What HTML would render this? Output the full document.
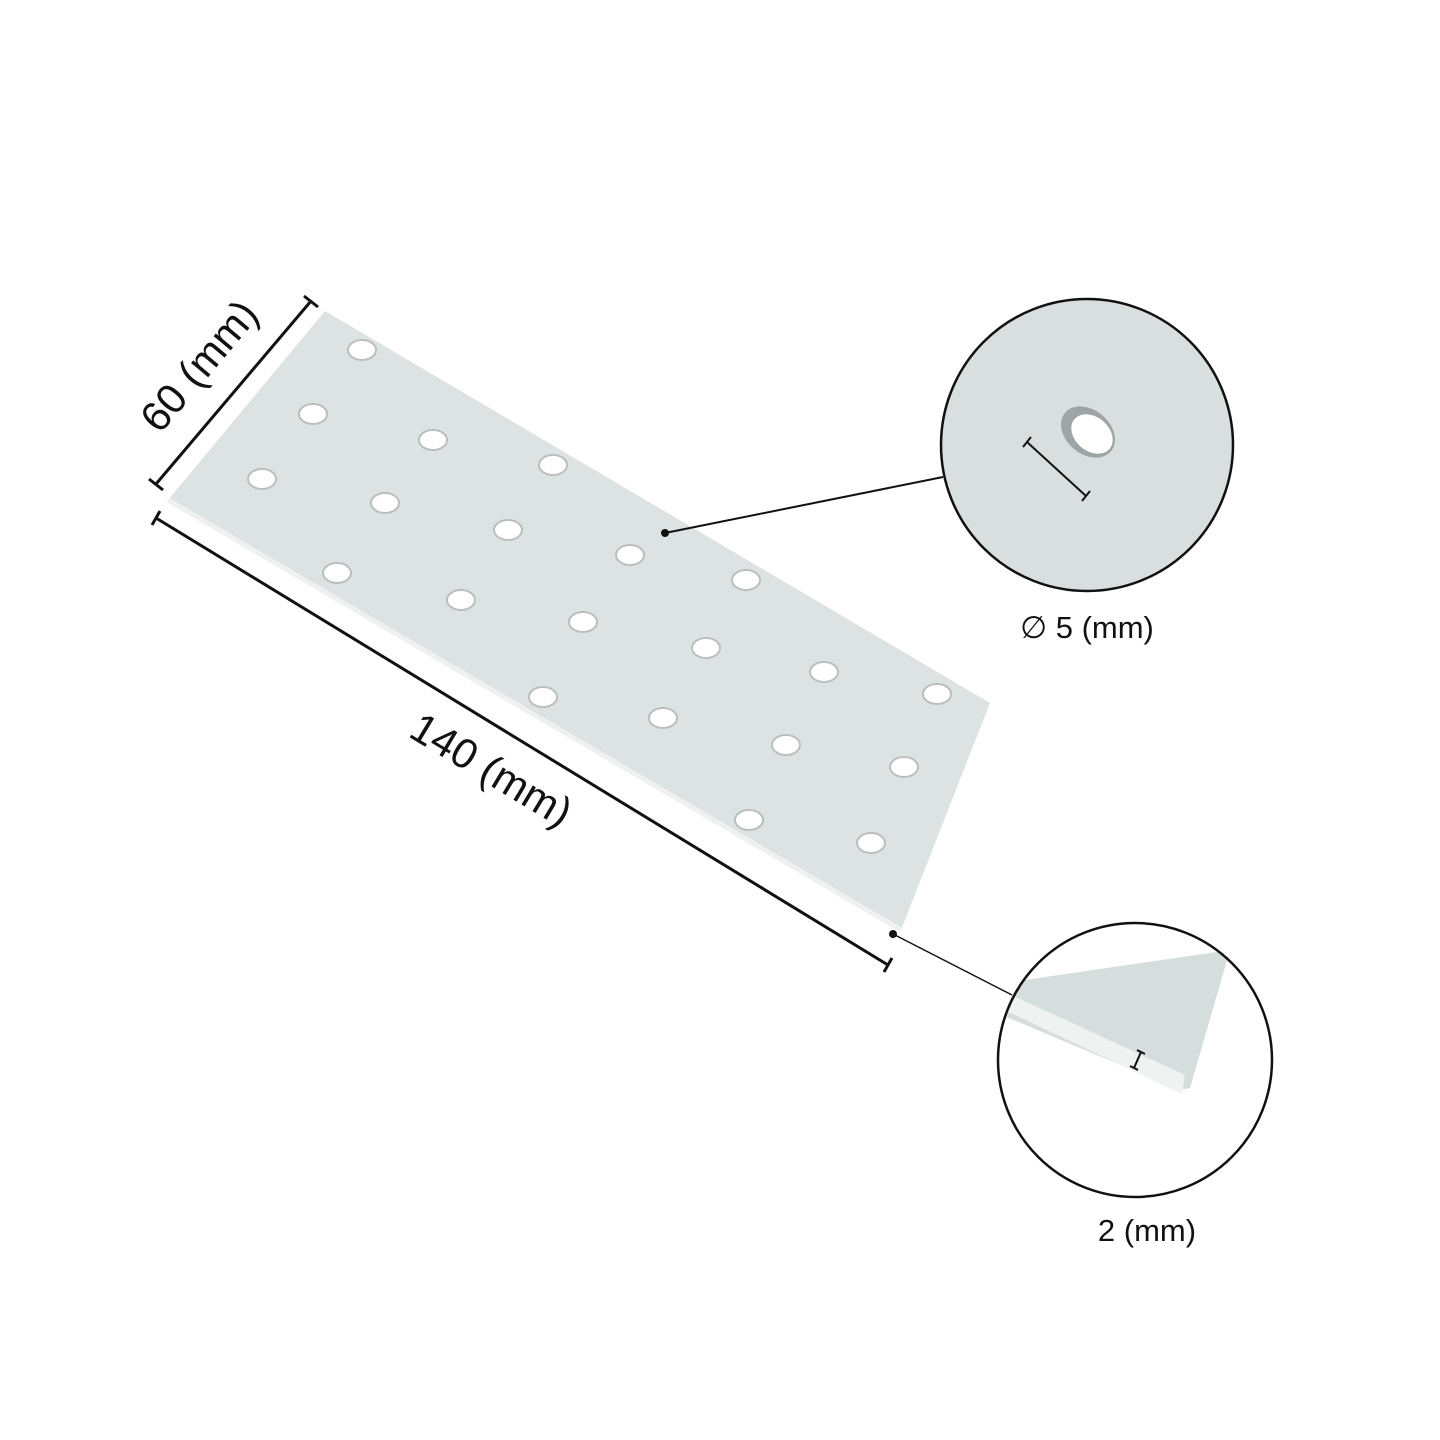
<!DOCTYPE html>
<html><head><style>
html,body{margin:0;padding:0;background:#fff}
svg{display:block}
text{font-family:"Liberation Sans",sans-serif;fill:#111}
</style></head><body>
<svg width="1440" height="1440" viewBox="0 0 1440 1440" xmlns="http://www.w3.org/2000/svg">
<defs>
<clipPath id="c1"><circle cx="1087" cy="445" r="146"/></clipPath>
<clipPath id="c2"><circle cx="1135" cy="1060" r="137"/></clipPath>
</defs>
<polygon points="168,500 325,311 990,703 901,930" fill="#dde2e2"/>
<polyline points="168,500 901,930" stroke="#eef1f0" stroke-width="5" fill="none"/>
<g fill="#fff" stroke="#b9bfc0" stroke-width="2">
<ellipse cx="362" cy="350" rx="14" ry="10"/>
<ellipse cx="313" cy="414" rx="14" ry="10"/>
<ellipse cx="262" cy="479" rx="14" ry="10"/>
<ellipse cx="433" cy="440" rx="14" ry="10"/>
<ellipse cx="385" cy="503" rx="14" ry="10"/>
<ellipse cx="337" cy="573" rx="14" ry="10"/>
<ellipse cx="553" cy="465" rx="14" ry="10"/>
<ellipse cx="508" cy="530" rx="14" ry="10"/>
<ellipse cx="461" cy="600" rx="14" ry="10"/>
<ellipse cx="630" cy="555" rx="14" ry="10"/>
<ellipse cx="583" cy="622" rx="14" ry="10"/>
<ellipse cx="543" cy="697" rx="14" ry="10"/>
<ellipse cx="746" cy="580" rx="14" ry="10"/>
<ellipse cx="706" cy="648" rx="14" ry="10"/>
<ellipse cx="663" cy="718" rx="14" ry="10"/>
<ellipse cx="824" cy="672" rx="14" ry="10"/>
<ellipse cx="786" cy="745" rx="14" ry="10"/>
<ellipse cx="749" cy="820" rx="14" ry="10"/>
<ellipse cx="937" cy="694" rx="14" ry="10"/>
<ellipse cx="904" cy="767" rx="14" ry="10"/>
<ellipse cx="871" cy="843" rx="14" ry="10"/>
</g>
<g stroke="#111" stroke-width="3" fill="none">
<line x1="156" y1="484" x2="311" y2="301"/>
<line x1="149" y1="479" x2="163" y2="490"/>
<line x1="304" y1="296" x2="318" y2="307"/>
<line x1="156" y1="518" x2="888" y2="965"/>
<line x1="152" y1="525" x2="160" y2="511"/>
<line x1="884" y1="972" x2="892" y2="958"/>
</g>
<line x1="665" y1="533" x2="943" y2="477" stroke="#111" stroke-width="2"/>
<circle cx="665" cy="533" r="4" fill="#111"/>
<line x1="893" y1="934" x2="1012" y2="995" stroke="#111" stroke-width="1.5"/>
<circle cx="893" cy="934" r="4" fill="#111"/>
<text transform="translate(210,375) rotate(-50)" font-size="42" text-anchor="middle">60 (mm)</text>
<text transform="translate(484,782) rotate(31)" font-size="42" text-anchor="middle">140 (mm)</text>
<g clip-path="url(#c1)">
<rect x="930" y="290" width="320" height="320" fill="#d9dfdf"/>
<ellipse cx="1088" cy="432" rx="30" ry="22" transform="rotate(40 1088 432)" fill="#9ea5a6"/>
<ellipse cx="1092" cy="434" rx="23" ry="17" transform="rotate(40 1092 434)" fill="#fff"/>
</g>
<circle cx="1087" cy="445" r="146" fill="none" stroke="#111" stroke-width="2.5"/>
<g stroke="#111" stroke-width="2">
<line x1="1027" y1="442" x2="1086" y2="496"/>
<line x1="1023" y1="447" x2="1031" y2="437"/>
<line x1="1082" y1="501" x2="1090" y2="491"/>
</g>
<text x="1087" y="638" font-size="31" text-anchor="middle">∅ 5 (mm)</text>
<g clip-path="url(#c2)">
<polygon points="990,985 1230,950 1190,1088 1180,1090 990,1010" fill="#d6dddd"/>
<polygon points="1005,992 1185,1075 1182,1094 1000,1008" fill="#eef2f0"/>
</g>
<circle cx="1135" cy="1060" r="137" fill="none" stroke="#111" stroke-width="2.5"/>
<g stroke="#111" stroke-width="2">
<line x1="1141" y1="1052" x2="1134" y2="1068"/>
<line x1="1137" y1="1050" x2="1145" y2="1054"/>
<line x1="1130" y1="1066" x2="1138" y2="1070"/>
</g>
<text x="1147" y="1241" font-size="31" text-anchor="middle">2 (mm)</text>
</svg>
</body></html>
